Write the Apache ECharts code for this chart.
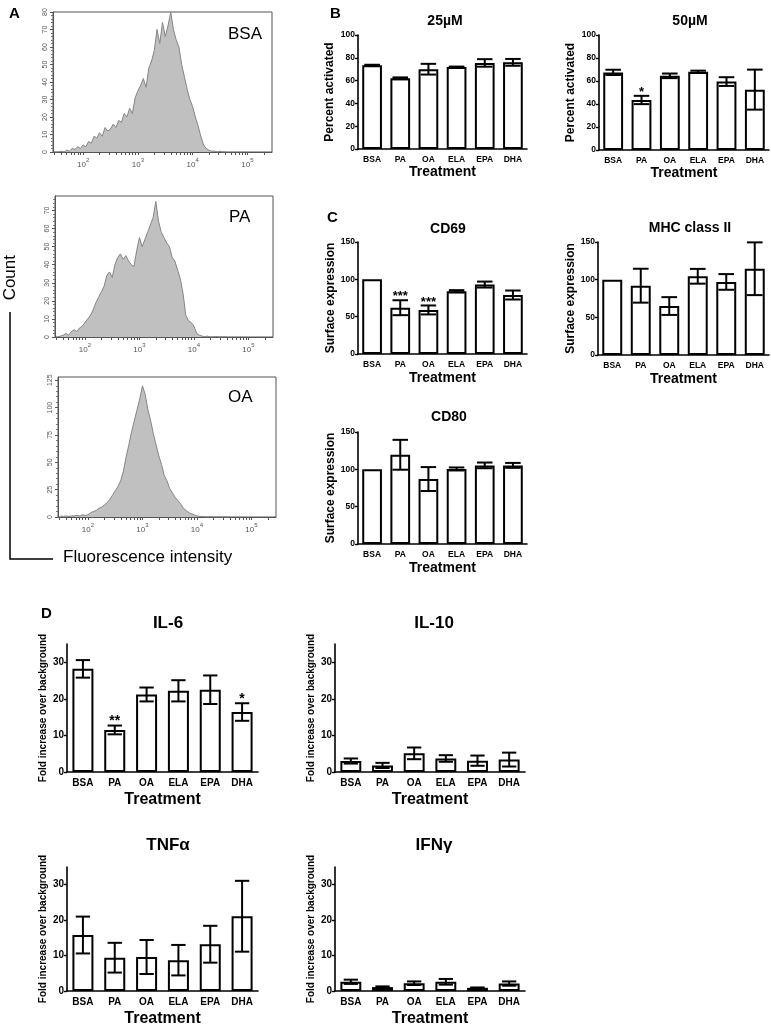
<!DOCTYPE html>
<html>
<head>
<meta charset="utf-8">
<script src="https://cdn.jsdelivr.net/npm/echarts@6/dist/echarts.min.js"></script>
<style>html,body{margin:0;padding:0;background:#fff;}#main{width:771px;height:1028px;}</style>
</head>
<body>
<div id="main"></div>
<script>
// ---------- DATA ----------
const treatments = ['BSA', 'PA', 'OA', 'ELA', 'EPA', 'DHA'];

// Panel B: percent activated
const act25Mean = [73.5, 62, 70, 72, 75.5, 76];
const act25Err  = [0.4, 0.8, 4.7, 0.3, 3.3, 3.0];
const act25Sig  = ['', '', '', '', '', ''];
const act50Mean = [67.5, 43.5, 64.5, 68, 59.5, 52.5];
const act50Err  = [2.3, 3.6, 2.0, 1.0, 3.8, 17.4];
const act50Sig  = ['', '*', '', '', '', ''];
const pctTicks  = [0, 20, 40, 60, 80, 100];

// Panel C: surface expression
const cd69Mean = [100, 62, 59, 84, 93, 79];
const cd69Err  = [0, 10, 6, 1.5, 4, 6];
const cd69Sig  = ['', '***', '***', '', '', ''];
const mhcMean  = [100, 92, 65, 104.5, 97, 114.5];
const mhcErr   = [0, 22.5, 11.8, 9.8, 10.4, 35];
const mhcSig   = ['', '', '', '', '', ''];
const cd80Mean = [100, 119.5, 87, 100.5, 105.3, 105.3];
const cd80Err  = [0, 20, 16, 2, 3.8, 3.3];
const cd80Sig  = ['', '', '', '', '', ''];
const surfTicks = [0, 50, 100, 150];

// Panel D: cytokines (fold increase over background)
const il6Mean  = [28.2, 11.5, 21.2, 22.2, 22.5, 16.4];
const il6Err   = [2.4, 1.2, 1.9, 2.9, 3.9, 2.4];
const il6Sig   = ['', '**', '', '', '', '*'];
const il10Mean = [3.0, 1.8, 5.1, 3.7, 3.1, 3.4];
const il10Err  = [0.7, 0.7, 1.6, 0.9, 1.4, 1.9];
const il10Sig  = ['', '', '', '', '', ''];
const tnfMean  = [15.8, 9.4, 9.6, 8.7, 13.2, 21.1];
const tnfErr   = [5.2, 4.2, 4.8, 4.3, 5.2, 10];
const tnfSig   = ['', '', '', '', '', ''];
const ifnMean  = [2.6, 1.1, 2.2, 2.6, 0.9, 2.1];
const ifnErr   = [0.6, 0.2, 0.5, 0.8, 0.1, 0.6];
const ifnSig   = ['', '', '', '', '', ''];
const foldTicks = [0, 10, 20, 30];

// Panel A: flow cytometry histograms (bin = log10 fluorescence intensity)
const binLog = [1.50,1.55,1.60,1.65,1.70,1.75,1.80,1.85,1.90,1.95,2.00,2.05,2.10,2.15,2.20,2.25,2.30,2.35,2.40,2.45,
  2.50,2.55,2.60,2.65,2.70,2.75,2.80,2.85,2.90,2.95,3.00,3.05,3.10,3.15,3.20,3.25,3.30,3.35,3.40,3.45,
  3.50,3.55,3.60,3.65,3.70,3.75,3.80,3.85,3.90,3.95,4.00,4.05,4.10,4.15,4.20,4.25,4.30,4.35,4.40,4.45,
  4.50,4.55,4.60];
const bsaCounts = [0,0,0.5,0,1,0.5,2,1.5,3,2,4,3,6,5,9,8,11,9,14,12,
  13,16,14,18,17,22,20,25,22,31,35,38,42,37,48,52,58,70,62,74,
  66,72,80,70,64,60,50,43,36,30,26,20,15,9,4,2,1,0.5,0.5,0,
  0.5,0,0];
const paCounts = [0,0.5,1,2,1,3,4,3,5,6,8,10,12,15,19,22,25,28,34,36,
  33,40,44,46,43,45,42,40,39,48,55,50,54,58,62,66,75,64,58,55,
  52,50,44,42,37,32,24,12,9,8,6,2,1,0.5,0,0.5,0,0,0.3,0,
  0,0,0];
const oaCounts = [1,0.5,1,0.5,1,1,1.5,1,2,1.5,2,4,5,6,8,9,11,13,16,20,
  24,28,33,42,55,66,78,88,98,108,120,112,98,88,76,66,56,48,38,33,
  26,22,18,15,12,8,6,4,3,2,1,0.5,0.5,0,0,0.3,0,0,0,0,
  0,0,0];
const histLabels = ['BSA', 'PA', 'OA'];
const histDecades = [2, 3, 4, 5];
const bsaYTicks = [0, 10, 20, 30, 40, 50, 60, 70, 80];
const paYTicks  = [0, 10, 20, 30, 40, 50, 60, 70];
const oaYTicks  = [0, 25, 50, 75, 100, 125];

// ---------- BUILD ----------
const FONT = "'Liberation Sans', Arial, Helvetica, sans-serif";
const grids = [], xAxes = [], yAxes = [], series = [], titles = [];

function addTitle(text, x, y, size, weight, align) {
  titles.push({text: text, left: x, top: y, textAlign: align || 'left',
    textStyle: {fontFamily: FONT, fontSize: size, fontWeight: weight, color: '#000'}});
}

function errRender(sig, capFrac, starSize) {
  return function (params, api) {
    const m = api.value(1), e = api.value(2);
    const pHi = api.coord([api.value(0), m + e]);
    const pLo = api.coord([api.value(0), m - e]);
    const x = pHi[0];
    const half = api.size([1, 0])[0] * capFrac / 2;
    const ls = {stroke: '#000', lineWidth: 2};
    const children = [];
    if (e > 0) {
      children.push({type: 'line', shape: {x1: x, y1: pHi[1], x2: x, y2: pLo[1]}, style: ls});
      children.push({type: 'line', shape: {x1: x - half, y1: pHi[1], x2: x + half, y2: pHi[1]}, style: ls});
      children.push({type: 'line', shape: {x1: x - half, y1: pLo[1], x2: x + half, y2: pLo[1]}, style: ls});
    }
    const s = sig[params.dataIndex];
    if (s) {
      children.push({type: 'text', style: {text: s, x: x, y: pHi[1] + 3, align: 'center', verticalAlign: 'bottom',
        fontSize: starSize, fontWeight: 'bold', fontFamily: FONT, fill: '#000'}});
    }
    return {type: 'group', children: children};
  };
}

function barPanel(c) {
  const gi = grids.length;
  grids.push({left: c.left, top: c.top, width: c.width, height: c.height, containLabel: false});
  xAxes.push({type: 'category', gridIndex: gi, data: treatments,
    axisLine: {lineStyle: {color: '#000', width: 1.6}},
    axisTick: {alignWithLabel: true, length: 3, lineStyle: {color: '#000', width: 1.4}},
    axisLabel: {fontFamily: FONT, fontWeight: 'bold', fontSize: c.catFont, color: '#000', margin: c.catMargin, interval: 0},
    name: 'Treatment', nameLocation: 'middle', nameGap: c.xNameGap,
    nameTextStyle: {fontFamily: FONT, fontWeight: 'bold', fontSize: c.xNameFont, color: '#000'}});
  yAxes.push({type: 'value', gridIndex: gi, min: 0, max: c.ymax, interval: c.interval,
    axisLine: {show: true, lineStyle: {color: '#000', width: 1.6}},
    axisTick: {show: true, length: 3, customValues: c.ticks, lineStyle: {color: '#000', width: 1.4}},
    splitLine: {show: false},
    axisLabel: {customValues: c.ticks, fontFamily: FONT, fontWeight: 'bold', fontSize: c.tickFont, color: '#000', margin: 3},
    name: c.yName, nameLocation: 'middle', nameGap: c.yNameGap, nameRotate: 90,
    nameTextStyle: {fontFamily: FONT, fontWeight: 'bold', fontSize: c.yNameFont, color: '#000'}});
  series.push({type: 'bar', xAxisIndex: gi, yAxisIndex: gi, data: c.mean, barWidth: c.barWidth,
    itemStyle: {color: '#fff', borderColor: '#000', borderWidth: 2}, silent: true, animation: false});
  series.push({type: 'custom', xAxisIndex: gi, yAxisIndex: gi, z: 5, animation: false, silent: true,
    data: c.mean.map((m, i) => [i, m, c.err[i]]),
    renderItem: errRender(c.sig, c.capFrac, c.starSize)});
  addTitle(c.title, c.titleX, c.titleY, c.titleFont, 'bold', 'center');
}

function histPanel(h) {
  const gi = grids.length;
  grids.push({left: h.left, top: h.top, width: h.width, height: h.height, show: true,
    borderColor: '#555', borderWidth: 1, containLabel: false});
  const minorLog = [];
  for (let d = 1; d <= 5; d++) for (let k = 1; k <= 9; k++) {
    const v = d + Math.log10(k);
    if (v >= 1.45 && v <= 5.45) minorLog.push(v);
  }
  xAxes.push({type: 'value', gridIndex: gi, min: 1.45, max: 5.45,
    axisLine: {show: true, lineStyle: {color: '#555', width: 1}},
    axisTick: {show: true, customValues: minorLog, length: 3, lineStyle: {color: '#555'}},
    axisLabel: {customValues: histDecades, formatter: v => '{b|10}{s|' + Math.round(v) + '}',
      margin: 5,
      rich: {
        b: {fontFamily: FONT, fontSize: 8, color: '#555', lineHeight: 12, verticalAlign: 'bottom'},
        s: {fontFamily: FONT, fontSize: 6, color: '#555', lineHeight: 12, verticalAlign: 'top'}
      }},
    splitLine: {show: false}});
  yAxes.push({type: 'value', gridIndex: gi, min: 0, max: h.ymax, interval: h.interval,
    axisLine: {show: true, lineStyle: {color: '#555', width: 1}},
    axisTick: {show: true, length: 3, customValues: h.yTicks, lineStyle: {color: '#555'}},
    minorTick: {show: true, splitNumber: 5, length: 2, lineStyle: {color: '#777'}},
    axisLabel: {customValues: h.yTicks, rotate: 90, fontFamily: FONT, fontSize: 7, color: '#555', margin: 4},
    splitLine: {show: false}, minorSplitLine: {show: false}});
  series.push({type: 'line', xAxisIndex: gi, yAxisIndex: gi, symbol: 'none', animation: false, silent: true,
    data: binLog.map((b, i) => [b, h.counts[i]]),
    lineStyle: {color: '#858585', width: 1},
    areaStyle: {color: '#c0c0c0', opacity: 1}});
  addTitle(h.label, h.labelX, h.labelY, 17, 'normal', 'left');
}

// Panel A
histPanel({left: 53, top: 12, width: 219, height: 140, ymax: 80, interval: 10, yTicks: bsaYTicks, counts: bsaCounts, label: histLabels[0], labelX: 223, labelY: 21});
histPanel({left: 55, top: 196, width: 218, height: 141, ymax: 78, interval: 10, yTicks: paYTicks, counts: paCounts, label: histLabels[1], labelX: 224, labelY: 204});
histPanel({left: 58, top: 377, width: 218, height: 140, ymax: 128, interval: 25, yTicks: oaYTicks, counts: oaCounts, label: histLabels[2], labelX: 223, labelY: 384});

// Panel B
const bStyle = {catFont: 8.5, catMargin: 6, xNameGap: 16, xNameFont: 14, tickFont: 8.5, yNameFont: 12, yNameGap: 22,
  barWidth: '70%', capFrac: 0.55, starSize: 13, titleFont: 14};
barPanel(Object.assign({}, bStyle, {left: 358, top: 35, width: 169, height: 114, ymax: 100, interval: 20, ticks: pctTicks,
  mean: act25Mean, err: act25Err, sig: act25Sig, yName: 'Percent activated', title: '25\u00B5M', titleX: 440, titleY: 9}));
barPanel(Object.assign({}, bStyle, {left: 599, top: 35, width: 170, height: 115, ymax: 100, interval: 20, ticks: pctTicks,
  mean: act50Mean, err: act50Err, sig: act50Sig, yName: 'Percent activated', title: '50\u00B5M', titleX: 685, titleY: 9}));

// Panel C
const cStyle = Object.assign({}, bStyle, {xNameGap: 17, yNameGap: 20, ymax: 150, interval: 50, ticks: surfTicks, yName: 'Surface expression'});
barPanel(Object.assign({}, cStyle, {left: 358, top: 242, width: 169, height: 112,
  mean: cd69Mean, err: cd69Err, sig: cd69Sig, title: 'CD69', titleX: 443, titleY: 217}));
barPanel(Object.assign({}, cStyle, {left: 598, top: 242, width: 171, height: 113,
  mean: mhcMean, err: mhcErr, sig: mhcSig, title: 'MHC class II', titleX: 685, titleY: 216}));
barPanel(Object.assign({}, cStyle, {left: 358, top: 432, width: 169, height: 112,
  mean: cd80Mean, err: cd80Err, sig: cd80Sig, title: 'CD80', titleX: 444, titleY: 405}));

// Panel D
const dStyle = {catFont: 10, catMargin: 6, xNameGap: 20, xNameFont: 16, tickFont: 10, yNameFont: 10, yNameGap: 19,
  barWidth: '66%', capFrac: 0.45, starSize: 14, titleFont: 17, ymax: 35, interval: 5, ticks: foldTicks,
  yName: 'Fold increase over background'};
barPanel(Object.assign({}, dStyle, {left: 67, top: 644, width: 191, height: 128,
  mean: il6Mean, err: il6Err, sig: il6Sig, title: 'IL-6', titleX: 163, titleY: 610}));
barPanel(Object.assign({}, dStyle, {left: 335, top: 644, width: 190, height: 128,
  mean: il10Mean, err: il10Err, sig: il10Sig, title: 'IL-10', titleX: 429, titleY: 610}));
barPanel(Object.assign({}, dStyle, {left: 67, top: 867, width: 191, height: 127,
  mean: tnfMean, err: tnfErr, sig: tnfSig, title: 'TNF\u03B1', titleX: 163, titleY: 832}));
barPanel(Object.assign({}, dStyle, {left: 335, top: 867, width: 190, height: 127,
  mean: ifnMean, err: ifnErr, sig: ifnSig, title: 'IFN\u03B3', titleX: 429, titleY: 832}));

// panel letters
addTitle('A', 4, 1, 15, 'bold');
addTitle('B', 325, 1, 15, 'bold');
addTitle('C', 322, 205, 15, 'bold');
addTitle('D', 36, 601, 15, 'bold');

const chart = echarts.init(document.getElementById('main'), null, {renderer: 'canvas'});
chart.setOption({
  animation: false,
  backgroundColor: '#fff',
  title: titles,
  grid: grids,
  xAxis: xAxes,
  yAxis: yAxes,
  series: series,
  graphic: [
    {type: 'text', left: 2, top: 255, rotation: Math.PI / 2,
      style: {text: 'Count', fontFamily: FONT, fontSize: 17, fill: '#000'}},
    {type: 'polyline', shape: {points: [[10, 312], [10, 559], [53, 559]]}, style: {stroke: '#000', lineWidth: 1.5, fill: null}},
    {type: 'text', left: 63, top: 549, style: {text: 'Fluorescence intensity', fontFamily: FONT, fontSize: 17, fill: '#000'}}
  ]
});
</script>
</body>
</html>
